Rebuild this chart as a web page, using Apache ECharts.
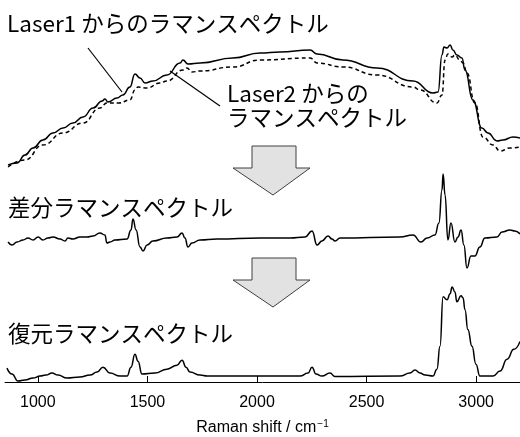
<!DOCTYPE html>
<html>
<head>
<meta charset="utf-8">
<script src="https://cdn.jsdelivr.net/npm/echarts@6/dist/echarts.min.js"></script>
<style>
html,body{margin:0;padding:0;background:#fff;}
#chart{width:520px;height:437px;}
</style>
</head>
<body>
<div id="chart"></div>
<script>
// ---- Data (Raman shift in cm^-1, intensities in arbitrary units) ----
var xTicks = [1000, 1500, 2000, 2500, 3000];

var laser1Shift = [864, 905, 941, 978, 1023, 1069, 1115, 1160, 1206, 1252, 1293, 1306, 1320, 1361, 1388, 1420, 1443, 1466, 1489, 1525, 1589, 1649, 1662, 1685, 1740, 1890, 2014, 2105, 2242, 2274, 2392, 2547, 2712, 2803, 2826, 2844, 2853, 2867, 2881, 2894, 2912, 2935, 2949, 2985, 3026, 3054, 3095, 3122, 3168, 3200];
var laser1Int   = [15, 17, 25, 32, 40, 47, 52, 57, 63, 72, 79, 81, 78, 82, 85, 93, 106, 102, 97, 99, 105, 117, 120, 116, 117, 122, 127, 128, 130, 126, 120, 112, 99, 87, 88, 125, 133, 132, 135, 130, 125, 122, 110, 80, 52, 47, 39, 40, 43, 42];

var laser2Shift = [864, 941, 1023, 1115, 1206, 1283, 1315, 1370, 1420, 1443, 1457, 1498, 1557, 1589, 1662, 1680, 1703, 1740, 1890, 2014, 2242, 2274, 2392, 2547, 2712, 2744, 2821, 2844, 2858, 2871, 2890, 2903, 2926, 2940, 2958, 2994, 3031, 3077, 3109, 3154, 3200];
var laser2Int   = [13, 20, 35, 47, 57, 72, 77, 77, 80, 90, 93, 92, 97, 99, 110, 112, 108, 109, 113, 120, 122, 117, 113, 105, 93, 90, 77, 85, 120, 126, 123, 125, 120, 117, 107, 77, 43, 35, 29, 32, 33];

var diffShift = [864, 882, 905, 932, 955, 978, 1001, 1023, 1046, 1069, 1101, 1124, 1137, 1160, 1192, 1224, 1252, 1283, 1306, 1315, 1329, 1352, 1407, 1425, 1434, 1448, 1466, 1480, 1498, 1525, 1589, 1635, 1658, 1671, 1685, 1703, 1740, 1817, 2014, 2151, 2219, 2251, 2274, 2296, 2324, 2342, 2356, 2379, 2652, 2712, 2748, 2776, 2812, 2830, 2844, 2849, 2858, 2871, 2885, 2903, 2917, 2931, 2944, 2958, 2976, 2994, 3017, 3040, 3095, 3118, 3154, 3177, 3200];
var diffInt   = [-2, -5, -2, 0, 2, 0, 3, 0, 2, 3, 1, -1, 2, 1, 3, 3, 4, 7, 5, -3, -2, 0, 1, 10, 21, 10, -7, -11, -5, -1, 2, 3, 7, 2, -7, -3, 0, 1, 2, 2, 3, 9, -5, -1, 4, 1, -1, 2, 3, 5, -2, 2, 5, 17, 50, 66, 45, 0, 17, -2, 3, 10, -5, -28, -16, -16, -7, 2, 3, 8, 10, 9, 6];

var restShift = [859, 882, 909, 941, 978, 1010, 1037, 1064, 1092, 1133, 1192, 1238, 1270, 1297, 1329, 1375, 1407, 1425, 1443, 1457, 1475, 1534, 1589, 1635, 1658, 1676, 1694, 1740, 1772, 2000, 2196, 2233, 2251, 2269, 2296, 2333, 2356, 2652, 2698, 2721, 2744, 2767, 2803, 2821, 2835, 2849, 2867, 2881, 2890, 2903, 2912, 2931, 2940, 2949, 2962, 2981, 2999, 3017, 3077, 3109, 3141, 3172, 3200];
var restInt   = [14, 8, 1, 2, 4, 6, 7, 9, 7, 4, 5, 7, 10, 15, 9, 6, 6, 15, 28, 21, 8, 9, 13, 17, 22, 15, 10, 7, 6, 6, 6, 9, 15, 8, 6, 9, 5.5, 6, 9, 12, 9, 7, 6, 13, 36, 86, 83, 89, 96, 91, 81, 87, 85, 73, 53, 36, 18, 6, 6, 11, 23, 33, 41];

function pairs(xs, ys) { return xs.map(function (x, i) { return [x, ys[i]]; }); }

var X_MIN = 850, X_MAX = 3200;
var CJK = '"Noto Sans CJK JP", "Noto Sans", sans-serif';
var LAT = '"Liberation Sans", Arial, sans-serif';

var chart = echarts.init(document.getElementById('chart'), null, {renderer: 'canvas'});

function hiddenX(idx) {
  return {gridIndex: idx, type: 'value', min: X_MIN, max: X_MAX, show: false};
}
function hiddenY(idx, mn, mx) {
  return {gridIndex: idx, type: 'value', min: mn, max: mx, show: false};
}
var lineBase = {type: 'line', showSymbol: false, symbol: 'none', smooth: 0.5, smoothMonotone: 'x', silent: true, animation: false};

function arrow(x0, y0) {
  // block arrow drawn as an annotation shape
  return {
    type: 'polygon',
    shape: {points: [[x0 + 19, y0], [x0 + 63, y0], [x0 + 63, y0 + 22], [x0 + 77, y0 + 22], [x0 + 40, y0 + 49], [x0, y0 + 22], [x0 + 19, y0 + 22]]},
    style: {fill: '#e2e2e2', stroke: '#404040', lineWidth: 1},
    z: 10
  };
}

var option = {
  backgroundColor: '#ffffff',
  animation: false,
  grid: [
    {left: 5, right: 0, top: 0, height: 180},
    {left: 5, right: 0, top: 160, height: 120},
    {left: 5, right: 0, top: 280, height: 103}
  ],
  xAxis: [
    hiddenX(0),
    hiddenX(1),
    {
      gridIndex: 2, type: 'value', min: X_MIN, max: X_MAX,
      axisLine: {show: true, onZero: false, lineStyle: {color: '#000', width: 1}},
      axisTick: {show: true, inside: true, length: 6, lineStyle: {color: '#000', width: 1}, customValues: xTicks},
      axisLabel: {show: true, color: '#000', fontSize: 16, fontFamily: LAT, margin: 13, customValues: xTicks,
                  formatter: function (v) { return String(v); }},
      splitLine: {show: false},
      name: '{a|Raman shift / cm}{s|−1}',
      nameLocation: 'middle',
      nameGap: 37,
      nameTextStyle: {
        color: '#000',
        rich: {
          a: {fontSize: 16, fontFamily: LAT, color: '#000', lineHeight: 18},
          s: {fontSize: 10, fontFamily: LAT, color: '#000', verticalAlign: 'top', lineHeight: 18, padding: [0, 0, 0, 1]}
        }
      }
    }
  ],
  yAxis: [
    hiddenY(0, 0, 180),
    hiddenY(1, -40, 80),
    hiddenY(2, 0, 103)
  ],
  series: [
    Object.assign({}, lineBase, {name: 'Laser1', xAxisIndex: 0, yAxisIndex: 0, data: pairs(laser1Shift, laser1Int), lineStyle: {color: '#000', width: 1.5}}),
    Object.assign({}, lineBase, {name: 'Laser2', xAxisIndex: 0, yAxisIndex: 0, data: pairs(laser2Shift, laser2Int), lineStyle: {color: '#000', width: 1.5, type: [4, 3]}}),
    Object.assign({}, lineBase, {name: '差分', xAxisIndex: 1, yAxisIndex: 1, data: pairs(diffShift, diffInt), lineStyle: {color: '#000', width: 1.5}}),
    Object.assign({}, lineBase, {name: '復元', xAxisIndex: 2, yAxisIndex: 2, data: pairs(restShift, restInt), lineStyle: {color: '#000', width: 1.5}})
  ],
  graphic: [
    {type: 'text', left: 7, top: 12, style: {text: 'Laser1 からのラマンスペクトル', font: '22.5px ' + CJK, fill: '#000'}},
    {type: 'text', left: 227, top: 81, style: {text: 'Laser2 からの\nラマンスペクトル', font: '22.5px ' + CJK, fill: '#000', lineHeight: 24}},
    {type: 'text', left: 8, top: 196, style: {text: '差分ラマンスペクトル', font: '22.5px ' + CJK, fill: '#000'}},
    {type: 'text', left: 8, top: 322, style: {text: '復元ラマンスペクトル', font: '22.5px ' + CJK, fill: '#000'}},
    {type: 'line', shape: {x1: 88, y1: 48, x2: 122, y2: 92}, style: {stroke: '#000', lineWidth: 1.2}},
    {type: 'line', shape: {x1: 170, y1: 71, x2: 220, y2: 106}, style: {stroke: '#000', lineWidth: 1.2}},
    arrow(233, 146),
    arrow(233, 258)
  ]
};
chart.setOption(option);
</script>
</body>
</html>
